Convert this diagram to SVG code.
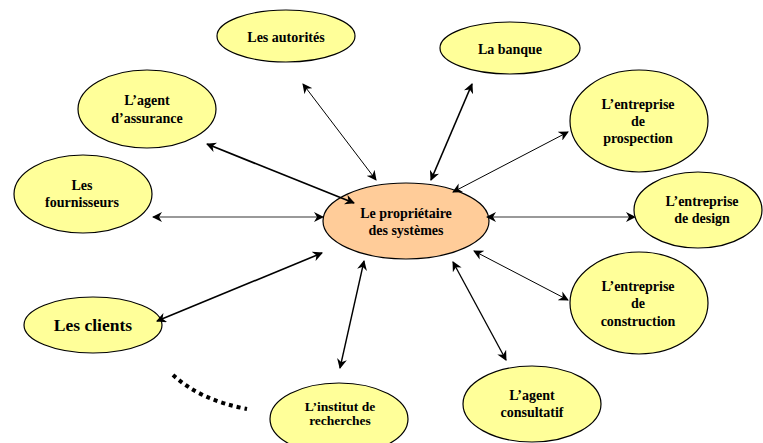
<svg xmlns="http://www.w3.org/2000/svg" width="763" height="443" viewBox="0 0 763 443">
<style>
.n{fill:#FFFF99;stroke:#000;stroke-width:1.2}
.c{fill:#FFCC99;stroke:#000;stroke-width:1.2}
text{font-family:"Liberation Serif","Times New Roman",serif;font-weight:bold;font-size:14px;fill:#000;text-anchor:middle}
.big{font-size:17.5px}
.sm{font-size:13.5px}
.l{fill:none;stroke:#000;marker-start:url(#a);marker-end:url(#a)}
.g{fill:none;stroke:#999;stroke-width:2;marker-start:url(#ag);marker-end:url(#ag)}
</style>
<defs>
<marker id="a" viewBox="0 0 10 10" refX="9" refY="5" markerWidth="10" markerHeight="10" markerUnits="userSpaceOnUse" orient="auto-start-reverse">
<path d="M0,0 L10,5 L0,10 L3,5 Z" fill="#000"/>
</marker>
<marker id="ag" viewBox="0 0 10 10" refX="9" refY="5" markerWidth="10" markerHeight="10" markerUnits="userSpaceOnUse" orient="auto-start-reverse">
<path d="M0,0 L10,5 L0,10 L3,5 Z" fill="#000"/>
</marker>
</defs>
<g id="center"><ellipse class="c" cx="406" cy="221" rx="83" ry="38"/><text x="406" y="218">Le propriétaire</text><text x="406" y="235">des systèmes</text></g>
<g id="autorites"><ellipse class="n" cx="286" cy="36" rx="69" ry="26"/><text x="286" y="42">Les autorités</text></g>
<g id="banque"><ellipse class="n" cx="510" cy="48" rx="70" ry="26"/><text x="510" y="54">La banque</text></g>
<g id="assurance"><ellipse class="n" cx="147" cy="109" rx="69" ry="39"/><text x="147" y="105">L’agent</text><text x="147" y="123">d’assurance</text></g>
<g id="fournisseurs"><ellipse class="n" cx="83" cy="194" rx="69" ry="39"/><text x="82" y="190">Les</text><text x="82" y="207">fournisseurs</text></g>
<g id="prospection"><ellipse class="n" cx="639" cy="121" rx="69" ry="51"/><text x="638" y="109">L’entreprise</text><text x="638" y="126">de</text><text x="638" y="143">prospection</text></g>
<g id="design"><ellipse class="n" cx="698" cy="210" rx="64" ry="38"/><text x="702" y="206">L’entreprise</text><text x="702" y="223">de design</text></g>
<g id="construction"><ellipse class="n" cx="639" cy="303" rx="69" ry="51"/><text x="638" y="291">L’entreprise</text><text x="638" y="308">de</text><text x="638" y="326">construction</text></g>
<g id="consultatif"><ellipse class="n" cx="532" cy="404" rx="69" ry="38"/><text x="532" y="400">L’agent</text><text x="532" y="417">consultatif</text></g>
<g id="institut"><ellipse class="n" cx="339" cy="419" rx="69" ry="36"/><text class="sm" x="340" y="411">L’institut de</text><text class="sm" x="340" y="425">recherches</text></g>
<g id="clients"><ellipse class="n" cx="93" cy="325" rx="69" ry="28"/><text class="big" x="93" y="331">Les clients</text></g>
<g id="connectors">
<line class="l" x1="303" y1="84" x2="376" y2="180" stroke-width="1"/>
<line class="l" x1="472" y1="84" x2="431" y2="180" stroke-width="1.6"/>
<line class="l" x1="568" y1="132" x2="453" y2="192" stroke-width="1"/>
<line class="l" x1="207" y1="144" x2="354" y2="203" stroke-width="1.8"/>
<line class="g" x1="153" y1="217" x2="323" y2="217"/>
<line class="g" x1="487" y1="217" x2="635" y2="217"/>
<line class="l" x1="157" y1="321" x2="322" y2="253" stroke-width="1.6"/>
<line class="l" x1="340" y1="368" x2="364" y2="261" stroke-width="1.4"/>
<line class="l" x1="506" y1="360" x2="453" y2="262" stroke-width="1.3"/>
<line class="l" x1="568" y1="300" x2="474" y2="251" stroke-width="1"/>
<path d="M173,375 Q200,400 247,409" fill="none" stroke="#000" stroke-width="4" stroke-dasharray="4 4"/>
</g>
</svg>
